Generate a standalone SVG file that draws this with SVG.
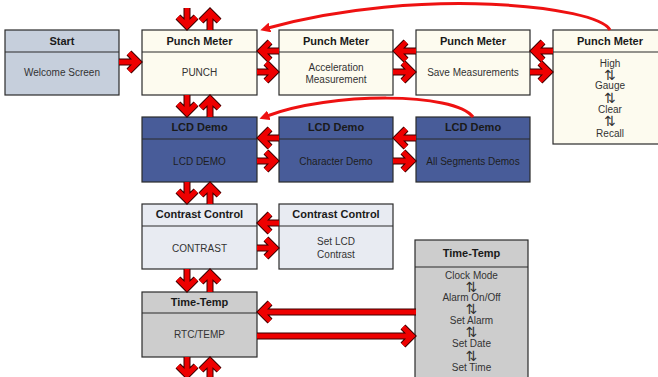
<svg xmlns="http://www.w3.org/2000/svg" width="658" height="377" viewBox="0 0 658 377">
<style>
.box{stroke:#2b2b2b;stroke-width:1.2}
.div{stroke:#2b2b2b;stroke-width:1.2}
.start{fill:#c6cfdc}
.punch{fill:#fdfbef}
.lcd{fill:#485c99}
.con{fill:#e8ebf2}
.tt{fill:#cdcdcd}
text{font-family:"Liberation Sans",Arial,sans-serif;text-anchor:middle}
.h{font-size:11px;font-weight:bold;fill:#1a1a1a}
.b{font-size:10px;fill:#333}
.bd{font-size:10px;fill:#1e1e1e}
.sym{font-family:"DejaVu Sans",sans-serif;font-size:14px;fill:#333}
.ao{fill:none;stroke:#3a0000;stroke-width:7;stroke-linejoin:miter}
.ar{fill:none;stroke:#ee0000;stroke-width:5;stroke-linejoin:miter}
.curve{fill:none;stroke:#ee1111;stroke-width:3}
</style>
<defs>
<marker id="mh" markerWidth="10" markerHeight="10" refX="2" refY="5" orient="auto" markerUnits="userSpaceOnUse" viewBox="0 0 10 10">
<path d="M0,0 L10,5 L0,10 z" fill="#ee1111"/>
</marker>
<g id="arrows">
<path d="M119 62 H138 M129 53 L138 62 L129 71"/>
<path d="M279 51 H261 M270 42 L261 51 L270 60"/>
<path d="M257 72 H275 M266 63 L275 72 L266 81"/>
<path d="M416 51 H397 M406 42 L397 51 L406 60"/>
<path d="M393 72 H412 M403 63 L412 72 L403 81"/>
<path d="M553 51 H534 M543 42 L534 51 L543 60"/>
<path d="M530 72 H549 M540 63 L549 72 L540 81"/>
<path d="M187 8 V26 M178 17 L187 26 L196 17"/>
<path d="M210 30 V12 M201 21 L210 12 L219 21"/>
<path d="M187 95 V113 M178 104 L187 113 L196 104"/>
<path d="M210 117 V99 M201 108 L210 99 L219 108"/>
<path d="M279 138 H261 M270 129 L261 138 L270 147"/>
<path d="M257 161 H275 M266 152 L275 161 L266 170"/>
<path d="M416 138 H397 M406 129 L397 138 L406 147"/>
<path d="M393 161 H412 M403 152 L412 161 L403 170"/>
<path d="M187 182 V200 M178 191 L187 200 L196 191"/>
<path d="M210 204 V186 M201 195 L210 186 L219 195"/>
<path d="M279 223 H261 M270 214 L261 223 L270 232"/>
<path d="M257 248 H275 M266 239 L275 248 L266 257"/>
<path d="M187 269 V288 M178 279 L187 288 L196 279"/>
<path d="M210 292 V273 M201 282 L210 273 L219 282"/>
<path d="M416 312 H261 M270 303 L261 312 L270 321"/>
<path d="M257 336 H412 M403 327 L412 336 L403 345"/>
<path d="M187 357 V375 M178 366 L187 375 L196 366"/>
<path d="M210 380 V361 M201 370 L210 361 L219 370"/>
</g>
</defs>

<g id="start">
<rect class="box start" x="5" y="30" width="114" height="65"/>
<line class="div" x1="5" y1="52" x2="119" y2="52"/>
<text class="h" x="62" y="45">Start</text>
<text class="b" x="62" y="76">Welcome Screen</text>
</g>

<g id="punch">
<rect class="box punch" x="142" y="30" width="115" height="65"/>
<line class="div" x1="142" y1="52" x2="257" y2="52"/>
<text class="h" x="199.5" y="45">Punch Meter</text>
<text class="b" x="199.5" y="76">PUNCH</text>
</g>

<g id="accel">
<rect class="box punch" x="279" y="30" width="114" height="65"/>
<line class="div" x1="279" y1="52" x2="393" y2="52"/>
<text class="h" x="336" y="45">Punch Meter</text>
<text class="b" x="336" y="71">Acceleration</text>
<text class="b" x="336" y="83">Measurement</text>
</g>

<g id="save">
<rect class="box punch" x="416" y="30" width="114" height="65"/>
<line class="div" x1="416" y1="52" x2="530" y2="52"/>
<text class="h" x="473" y="45">Punch Meter</text>
<text class="b" x="473" y="76">Save Measurements</text>
</g>

<g id="gauge">
<rect class="box punch" x="553" y="30" width="114" height="114"/>
<line class="div" x1="553" y1="52" x2="667" y2="52"/>
<text class="h" x="610" y="45">Punch Meter</text>
<text class="b" x="610" y="66.5">High</text>
<text class="sym" x="610" y="80">⇅</text>
<text class="b" x="610" y="89">Gauge</text>
<text class="sym" x="610" y="103">⇅</text>
<text class="b" x="610" y="112.5">Clear</text>
<text class="sym" x="610" y="126">⇅</text>
<text class="b" x="610" y="137">Recall</text>
</g>

<g id="lcd">
<rect class="box lcd" x="142" y="117" width="115" height="65"/>
<line class="div" x1="142" y1="139" x2="257" y2="139"/>
<text class="h" x="199.5" y="131">LCD Demo</text>
<text class="bd" x="199.5" y="165">LCD DEMO</text>
</g>

<g id="chardemo">
<rect class="box lcd" x="279" y="117" width="114" height="65"/>
<line class="div" x1="279" y1="139" x2="393" y2="139"/>
<text class="h" x="336" y="131">LCD Demo</text>
<text class="bd" x="336" y="165">Character Demo</text>
</g>

<g id="segdemo">
<rect class="box lcd" x="416" y="117" width="114" height="65"/>
<line class="div" x1="416" y1="139" x2="530" y2="139"/>
<text class="h" x="473" y="131">LCD Demo</text>
<text class="bd" x="473" y="165">All Segments Demos</text>
</g>

<g id="contrast">
<rect class="box con" x="142" y="204" width="115" height="65"/>
<line class="div" x1="142" y1="226" x2="257" y2="226"/>
<text class="h" x="199.5" y="218">Contrast Control</text>
<text class="b" x="199.5" y="252">CONTRAST</text>
</g>

<g id="setlcd">
<rect class="box con" x="279" y="204" width="114" height="65"/>
<line class="div" x1="279" y1="226" x2="393" y2="226"/>
<text class="h" x="336" y="218">Contrast Control</text>
<text class="b" x="336" y="245">Set LCD</text>
<text class="b" x="336" y="258">Contrast</text>
</g>

<g id="rtc">
<rect class="box tt" x="142" y="292" width="115" height="65"/>
<line class="div" x1="142" y1="313" x2="257" y2="313"/>
<text class="h" x="199.5" y="306">Time-Temp</text>
<text class="b" x="199.5" y="338">RTC/TEMP</text>
</g>

<g id="clock">
<rect class="box tt" x="415" y="240" width="113" height="150"/>
<line class="div" x1="415" y1="267" x2="528" y2="267"/>
<text class="h" x="471.5" y="257">Time-Temp</text>
<text class="b" x="471.5" y="279">Clock Mode</text>
<text class="sym" x="471.5" y="291.5">⇅</text>
<text class="b" x="471.5" y="301">Alarm On/Off</text>
<text class="sym" x="471.5" y="314">⇅</text>
<text class="b" x="471.5" y="324">Set Alarm</text>
<text class="sym" x="471.5" y="337">⇅</text>
<text class="b" x="471.5" y="347">Set Date</text>
<text class="sym" x="471.5" y="360.5">⇅</text>
<text class="b" x="471.5" y="371">Set Time</text>
</g>

<g id="connectors">
<use href="#arrows" class="ao"/>
<use href="#arrows" class="ar"/>
<path class="curve" d="M610 30 C598 6, 420 -14, 268 28" marker-end="url(#mh)"/>
<path class="curve" d="M473 117 C455 92, 330 92, 267 116" marker-end="url(#mh)"/>
</g>
</svg>
